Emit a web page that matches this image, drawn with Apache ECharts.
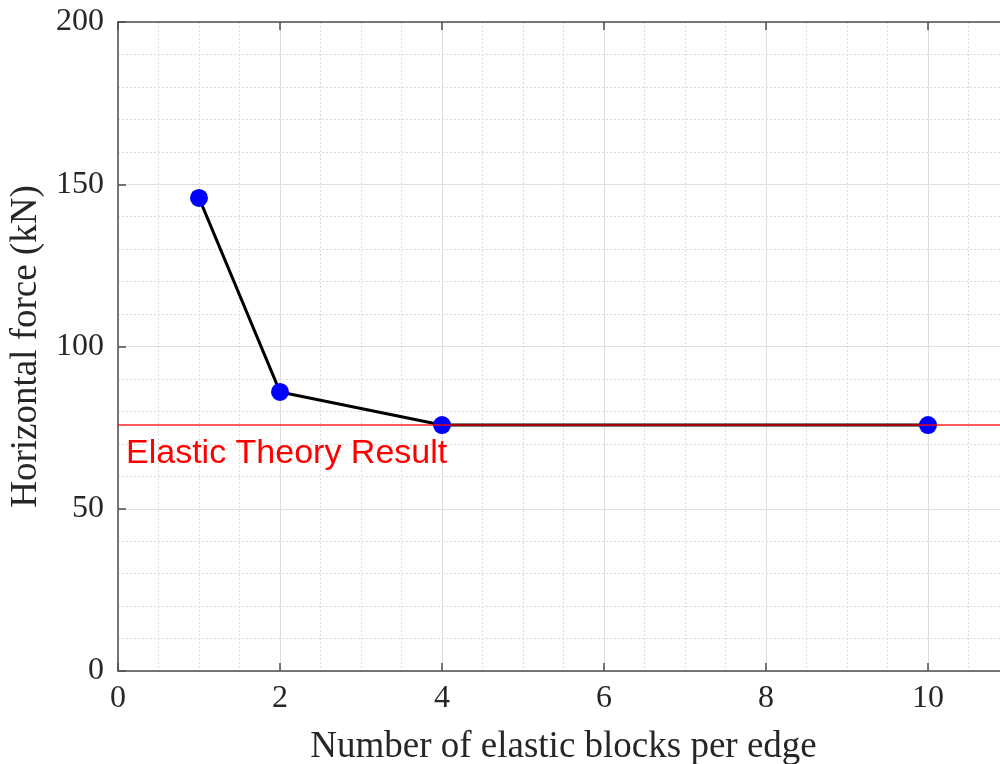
<!DOCTYPE html>
<html>
<head>
<meta charset="utf-8">
<script src="https://cdn.jsdelivr.net/npm/echarts@6/dist/echarts.min.js"></script>
<style>
  html, body { margin: 0; padding: 0; background: #fff; }
  #chart { width: 1000px; height: 764px; }
</style>
</head>
<body>
<div id="chart"></div>
<script>
// values
var blocks = [1, 2, 4, 10]
var force = [145.8, 86, 75.8, 75.8]
var theoryForce = 75.8
var theoryLabel = 'Elastic Theory Result'
var xName = 'Number of elastic blocks per edge'
var yName = 'Horizontal force (kN)'

var serif = 'Liberation Serif'
var axisColor = '#4d4d4d'
var textColor = '#262626'

var chart = echarts.init(document.getElementById('chart'))

var gridLine = { show: true, lineStyle: { color: '#e0e0e0', width: 1 } }
var minorLine = { show: true, lineStyle: { color: '#dcdcdc', width: 1, type: [2, 2] } }
var edgeLine = { show: true, onZero: false, lineStyle: { color: axisColor, width: 1.5 } }
var edgeTick = { show: true, inside: true, length: 8, lineStyle: { color: axisColor, width: 1.5 } }

chart.setOption({
    animation: false,
    backgroundColor: '#fff',
    // x goes to 11, a little past the right edge, like the cropped original
    grid: { left: 118, top: 22, width: 891, height: 649, outerBoundsMode: 'none' },
    xAxis: [{
        type: 'value',
        min: 0, max: 11, interval: 2,
        name: xName,
        nameLocation: 'middle',
        nameGap: 58,
        nameTextStyle: { fontFamily: serif, fontSize: 37, color: textColor },
        axisLine: edgeLine,
        axisTick: edgeTick,
        axisLabel: {
            fontFamily: serif, fontSize: 32, color: textColor, margin: 12,
            // the max (11) is cut off in the original
            formatter: function (v) { return v % 2 === 0 ? String(v) : '' }
        },
        splitLine: gridLine
    }, {
        type: 'value',
        position: 'top',
        min: 0, max: 11, interval: 2,
        axisLine: edgeLine,
        axisTick: edgeTick,
        axisLabel: { show: false },
        splitLine: { show: false }
    }, {
        // only carries the dotted half-unit grid
        type: 'value',
        position: 'bottom',
        min: 0, max: 11, interval: 0.5,
        axisLine: { show: false },
        axisTick: { show: false },
        axisLabel: { show: false },
        splitLine: minorLine
    }],
    yAxis: {
        type: 'value',
        min: 0, max: 200, interval: 50,
        name: yName,
        nameLocation: 'middle',
        nameGap: 62,
        nameTextStyle: { fontFamily: serif, fontSize: 37, color: textColor },
        axisLine: edgeLine,
        axisTick: edgeTick,
        axisLabel: { fontFamily: serif, fontSize: 32, color: textColor, margin: 14 },
        splitLine: gridLine,
        minorTick: { show: false, splitNumber: 5 },
        minorSplitLine: minorLine
    },
    series: [{
        type: 'line',
        data: blocks.map(function (b, i) { return [b, force[i]] }),
        symbol: 'circle',
        symbolSize: 18,
        lineStyle: { color: '#000', width: 3 },
        itemStyle: { color: '#0000ff' },
        markLine: {
            silent: true,
            symbol: 'none',
            lineStyle: { color: 'rgba(255,0,0,0.65)', width: 2, type: 'solid' },
            label: {
                show: true,
                position: 'insideStartBottom',
                formatter: theoryLabel,
                fontFamily: 'Liberation Sans',
                fontSize: 34,
                color: '#ff0000',
                distance: [8, 12]
            },
            data: [{ yAxis: theoryForce }]
        }
    }]
})
</script>
</body>
</html>
